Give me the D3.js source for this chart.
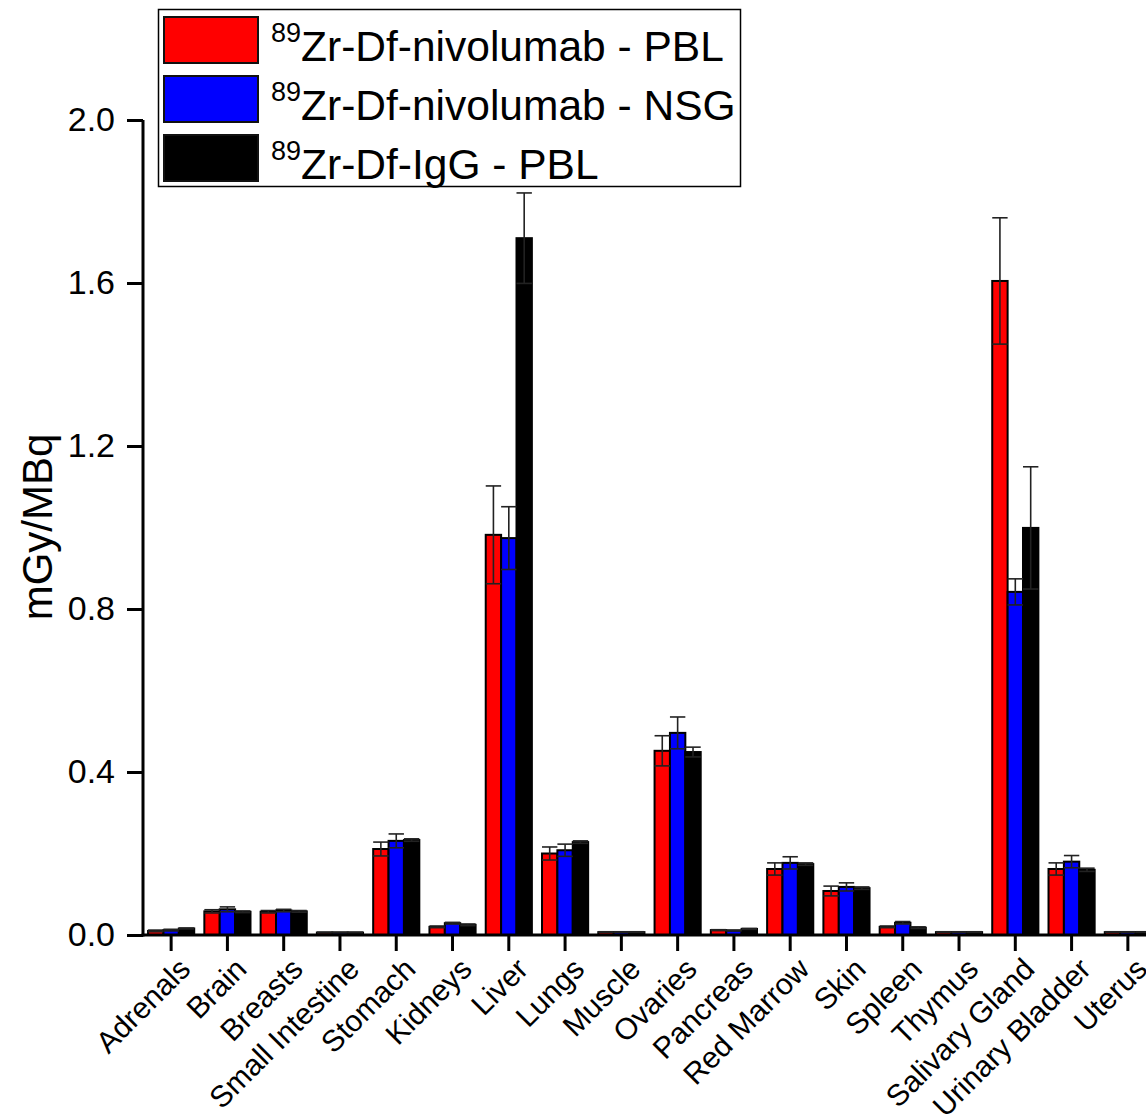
<!DOCTYPE html>
<html>
<head>
<meta charset="utf-8">
<script src="https://cdn.jsdelivr.net/npm/d3@7"></script>
<style>
  html, body { margin: 0; padding: 0; background: #fff; }
  svg text { font-family: Arial, "Liberation Sans", sans-serif; fill: #000; }
</style>
</head>
<body>
<svg id="chart" width="1146" height="1120"></svg>
<script>
// Organs (x categories)
const categories = ["Adrenals", "Brain", "Breasts", "Small Intestine", "Stomach", "Kidneys",
  "Liver", "Lungs", "Muscle", "Ovaries", "Pancreas", "Red Marrow", "Skin", "Spleen",
  "Thymus", "Salivary Gland", "Urinary Bladder", "Uterus"];

// Series keys, superscript isotope and label text
const seriesKeys = ["nivoPBL", "nivoNSG", "iggPBL"];
const seriesIsotope = ["89", "89", "89"];
const seriesLabels = ["Zr-Df-nivolumab - PBL", "Zr-Df-nivolumab - NSG", "Zr-Df-IgG - PBL"];
const seriesColors = ["#ff0000", "#0000ff", "#000000"];

// Absorbed dose estimates (mGy/MBq) and standard deviations
const nivoPBL    = [0.010, 0.058, 0.057, 0.006, 0.211, 0.020, 0.982, 0.200, 0.007, 0.452, 0.012, 0.162, 0.108, 0.020, 0.007, 1.605, 0.162, 0.007];
const nivoPBLErr = [0.002, 0.004, 0.003, 0.001, 0.017, 0.002, 0.120, 0.016, 0.001, 0.037, 0.001, 0.015, 0.012, 0.002, 0.001, 0.155, 0.015, 0.001];
const nivoNSG    = [0.012, 0.063, 0.060, 0.006, 0.231, 0.029, 0.974, 0.208, 0.007, 0.496, 0.011, 0.177, 0.118, 0.030, 0.007, 0.842, 0.180, 0.007];
const nivoNSGErr = [0.002, 0.006, 0.003, 0.001, 0.017, 0.002, 0.077, 0.015, 0.001, 0.039, 0.001, 0.015, 0.010, 0.003, 0.001, 0.032, 0.015, 0.001];
const iggPBL     = [0.016, 0.057, 0.058, 0.006, 0.233, 0.025, 1.710, 0.228, 0.007, 0.449, 0.015, 0.174, 0.115, 0.018, 0.007, 0.999, 0.160, 0.007];
const iggPBLErr  = [0.001, 0.002, 0.002, 0.001, 0.003, 0.002, 0.111, 0.003, 0.001, 0.012, 0.001, 0.003, 0.003, 0.002, 0.001, 0.150, 0.004, 0.001];

const yTicks = [0.0, 0.4, 0.8, 1.2, 1.6, 2.0];
const yTitle = "mGy/MBq";

const values = [nivoPBL, nivoNSG, iggPBL];
const errors = [nivoPBLErr, nivoNSGErr, iggPBLErr];

const svg = d3.select("#chart");

const plot = { left: 143, right: 1156, top: 120, bottom: 935 };

const x = d3.scaleBand().domain(categories)
  .range([plot.left, plot.right]).paddingInner(0.18).paddingOuter(0.09);
const xs = d3.scaleBand().domain(seriesKeys).range([0, x.bandwidth()]);
const y = d3.scaleLinear().domain([0, 2.0]).range([plot.bottom, plot.top]);

// Bars and error bars
const rows = [];
categories.forEach((c, i) => {
  seriesKeys.forEach((k, s) => {
    rows.push({ cat: c, key: k, s, v: values[s][i], e: errors[s][i] });
  });
});

const gBars = svg.append("g");
gBars.selectAll("rect").data(rows).join("rect")
  .attr("x", d => x(d.cat) + xs(d.key))
  .attr("y", d => y(d.v))
  .attr("width", xs.bandwidth())
  .attr("height", d => y(0) - y(d.v))
  .attr("fill", d => seriesColors[d.s])
  .attr("stroke", "#000")
  .attr("stroke-width", 2);

const gErr = svg.append("g").attr("stroke", "#222").attr("stroke-width", 1.6).attr("fill", "none");
rows.forEach(d => {
  const cx = x(d.cat) + xs(d.key) + xs.bandwidth() / 2;
  const half = xs.bandwidth() / 2;
  const yt = y(d.v + d.e), yb = y(d.v - d.e);
  gErr.append("line").attr("x1", cx).attr("x2", cx).attr("y1", yt).attr("y2", yb);
  gErr.append("line").attr("x1", cx - half).attr("x2", cx + half).attr("y1", yt).attr("y2", yt);
  gErr.append("line").attr("x1", cx - half).attr("x2", cx + half).attr("y1", yb).attr("y2", yb);
});

// Y axis
const yAxis = d3.axisLeft(y).tickValues(yTicks).tickFormat(d3.format(".1f")).tickSize(16).tickPadding(12);
const gy = svg.append("g").attr("transform", `translate(${plot.left},0)`).call(yAxis);
gy.select(".domain").attr("stroke", "#000").attr("stroke-width", 3)
  .attr("d", `M0,${plot.top}V${plot.bottom + 1.5}`);
gy.selectAll(".tick line").attr("stroke", "#000").attr("stroke-width", 3);
gy.selectAll(".tick text").attr("font-size", 34).style("font-family", "Arial, 'Liberation Sans', sans-serif");

// X axis
const xAxis = d3.axisBottom(x).tickSize(16).tickFormat("");
const gx = svg.append("g").attr("transform", `translate(0,${plot.bottom})`).call(xAxis);
gx.select(".domain").attr("stroke", "#000").attr("stroke-width", 3)
  .attr("d", `M${plot.left - 1.5},0H1146`);
gx.selectAll(".tick line").attr("stroke", "#000").attr("stroke-width", 3);

svg.append("g").selectAll("text").data(categories).join("text")
  .attr("transform", d => `translate(${x(d) + x.bandwidth() / 2 + 21},${plot.bottom + 36}) rotate(-45)`)
  .attr("text-anchor", "end")
  .attr("font-size", 30)
  .text(d => d);

// Y axis title
svg.append("text")
  .attr("transform", `translate(52,527) rotate(-90)`)
  .attr("text-anchor", "middle")
  .attr("font-size", 42)
  .text(yTitle);

// Legend
const lg = svg.append("g");
lg.append("rect").attr("x", 158.5).attr("y", 9.5).attr("width", 582).attr("height", 177)
  .attr("fill", "#fff").attr("stroke", "#000").attr("stroke-width", 1.5);
const rowY = [17, 76, 135];
seriesKeys.forEach((k, s) => {
  lg.append("rect").attr("x", 164).attr("y", rowY[s]).attr("width", 94).attr("height", 46)
    .attr("fill", seriesColors[s]).attr("stroke", "#111").attr("stroke-width", 2);
  const t = lg.append("text").attr("x", 271).attr("y", rowY[s] + 44).attr("font-size", 42.5);
  t.append("tspan").attr("font-size", 27).attr("dy", -19).text(seriesIsotope[s]);
  t.append("tspan").attr("dy", 19).text(seriesLabels[s]);
});
</script>
</body>
</html>
